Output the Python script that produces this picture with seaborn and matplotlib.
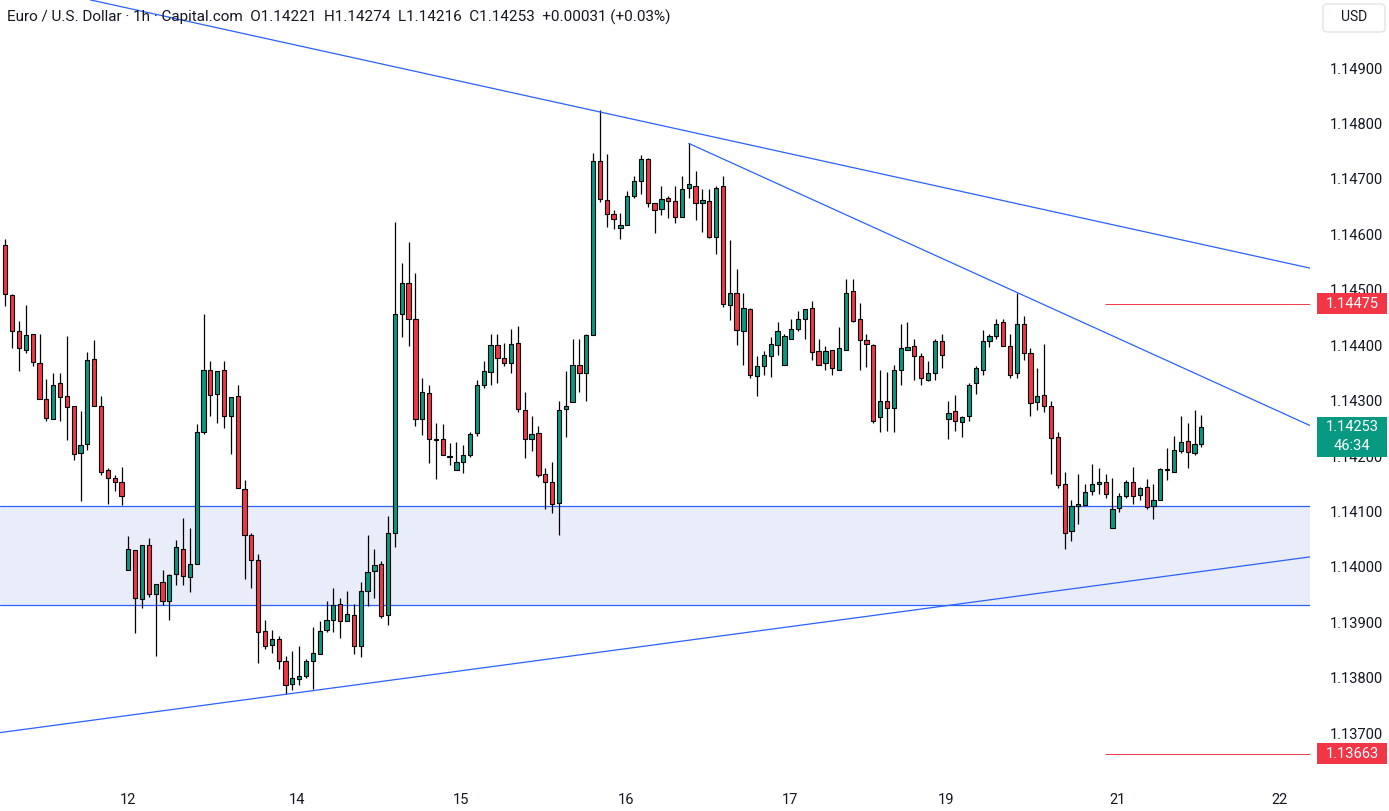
import numpy as np
import pandas as pd
import matplotlib
matplotlib.use("Agg")
import matplotlib.pyplot as plt
import seaborn as sns
from matplotlib.patches import Rectangle, FancyBboxPatch

# --- DATA: EUR/USD hourly candles ---
opens = [1.14581, 1.14490, 1.14425, 1.14392, 1.14420, 1.14367, 1.14302, 1.14267, 1.14331, 1.14308,
         1.14290, 1.14205, 1.14221, 1.14375, 1.14291, 1.14174, 1.14160, 1.14154, 1.13994, 1.14030,
         1.13942, 1.14039, 1.13951, 1.13972, 1.13938, 1.13987, 1.14033, 1.13981, 1.14005, 1.14243,
         1.14356, 1.14311, 1.14355, 1.14272, 1.14308, 1.14140, 1.14057, 1.14012, 1.13884, 1.13859,
         1.13869, 1.13830, 1.13788, 1.13797, 1.13804, 1.13830, 1.13842, 1.13886, 1.13904, 1.13933,
         1.13902, 1.13913, 1.13857, 1.13957, 1.13993, 1.14006, 1.13914, 1.14062, 1.14457, 1.14512,
         1.14448, 1.14267, 1.14314, 1.14230, 1.14230, 1.14199, 1.14174, 1.14190, 1.14201, 1.14241,
         1.14328, 1.14351, 1.14400, 1.14376, 1.14367, 1.14403, 1.14283, 1.14230, 1.14241, 1.14167,
         1.14154, 1.14115, 1.14284, 1.14297, 1.14365, 1.14349, 1.14418, 1.14732, 1.14661, 1.14636,
         1.14611, 1.14616, 1.14669, 1.14697, 1.14735, 1.14656, 1.14645, 1.14665, 1.14660, 1.14632,
         1.14683, 1.14688, 1.14656, 1.14660, 1.14595, 1.14687, 1.14472, 1.14495, 1.14425, 1.14465,
         1.14344, 1.14362, 1.14380, 1.14400, 1.14364, 1.14412, 1.14429, 1.14448, 1.14467, 1.14389,
         1.14367, 1.14391, 1.14356, 1.14392, 1.14497, 1.14447, 1.14409, 1.14400, 1.14270, 1.14299,
         1.14286, 1.14356, 1.14392, 1.14398, 1.14380, 1.14338, 1.14349, 1.14407, 1.14266, 1.14281,
         1.14261, 1.14272, 1.14331, 1.14356, 1.14407, 1.14416, 1.14441, 1.14398, 1.14349, 1.14438,
         1.14385, 1.14297, 1.14310, 1.14290, 1.14234, 1.14149, 1.14064, 1.14109, 1.14111, 1.14136,
         1.14149, 1.14154, 1.14070, 1.14106, 1.14127, 1.14154, 1.14129, 1.14144, 1.14109, 1.14120,
         1.14174, 1.14172, 1.14209, 1.14227, 1.14205, 1.14221]
highs = [1.14591, 1.14492, 1.14444, 1.14472, 1.14421, 1.14420, 1.14339, 1.14350, 1.14350, 1.14417,
         1.14291, 1.14281, 1.14388, 1.14409, 1.14308, 1.14178, 1.14166, 1.14180, 1.14056, 1.14030,
         1.14039, 1.14052, 1.13970, 1.13994, 1.13987, 1.14048, 1.14088, 1.14071, 1.14257, 1.14456,
         1.14371, 1.14353, 1.14371, 1.14306, 1.14329, 1.14156, 1.14061, 1.14023, 1.13904, 1.13886,
         1.13875, 1.13840, 1.13849, 1.13858, 1.13833, 1.13891, 1.13903, 1.13939, 1.13962, 1.13943,
         1.13957, 1.13933, 1.13972, 1.14058, 1.14032, 1.14011, 1.14092, 1.14622, 1.14549, 1.14587,
         1.14530, 1.14340, 1.14329, 1.14260, 1.14257, 1.14224, 1.14225, 1.14219, 1.14244, 1.14338,
         1.14371, 1.14420, 1.14420, 1.14403, 1.14429, 1.14434, 1.14315, 1.14272, 1.14255, 1.14178,
         1.14190, 1.14299, 1.14353, 1.14411, 1.14412, 1.14420, 1.14746, 1.14824, 1.14744, 1.14643,
         1.14638, 1.14679, 1.14706, 1.14743, 1.14737, 1.14656, 1.14687, 1.14669, 1.14687, 1.14706,
         1.14764, 1.14715, 1.14681, 1.14681, 1.14687, 1.14705, 1.14589, 1.14537, 1.14494, 1.14467,
         1.14380, 1.14389, 1.14414, 1.14442, 1.14420, 1.14447, 1.14461, 1.14465, 1.14479, 1.14412,
         1.14398, 1.14391, 1.14432, 1.14519, 1.14519, 1.14476, 1.14421, 1.14402, 1.14356, 1.14351,
         1.14365, 1.14438, 1.14441, 1.14412, 1.14385, 1.14371, 1.14411, 1.14421, 1.14299, 1.14310,
         1.14272, 1.14331, 1.14362, 1.14427, 1.14421, 1.14447, 1.14447, 1.14421, 1.14495, 1.14452,
         1.14394, 1.14358, 1.14402, 1.14299, 1.14243, 1.14172, 1.14120, 1.14167, 1.14149, 1.14185,
         1.14178, 1.14167, 1.14160, 1.14133, 1.14156, 1.14180, 1.14144, 1.14158, 1.14149, 1.14178,
         1.14214, 1.14236, 1.14273, 1.14259, 1.14283, 1.14274]
lows = [1.14471, 1.14394, 1.14354, 1.14386, 1.14363, 1.14302, 1.14264, 1.14266, 1.14264, 1.14229,
        1.14192, 1.14118, 1.14211, 1.14291, 1.14165, 1.14114, 1.14136, 1.14112, 1.13994, 1.13881,
        1.13926, 1.13945, 1.13840, 1.13932, 1.13905, 1.13967, 1.13967, 1.13954, 1.14005, 1.14239,
        1.14272, 1.14259, 1.14250, 1.14203, 1.14142, 1.13979, 1.13961, 1.13826, 1.13851, 1.13844,
        1.13815, 1.13770, 1.13777, 1.13786, 1.13799, 1.13779, 1.13842, 1.13882, 1.13882, 1.13871,
        1.13902, 1.13842, 1.13837, 1.13930, 1.13944, 1.13907, 1.13896, 1.14036, 1.14414, 1.14399,
        1.14255, 1.14238, 1.14188, 1.14158, 1.14201, 1.14183, 1.14174, 1.14170, 1.14198, 1.14237,
        1.14322, 1.14329, 1.14332, 1.14363, 1.14350, 1.14279, 1.14197, 1.14209, 1.14163, 1.14105,
        1.14098, 1.14058, 1.14234, 1.14297, 1.14315, 1.14300, 1.14418, 1.14658, 1.14613, 1.14609,
        1.14591, 1.14616, 1.14665, 1.14672, 1.14649, 1.14602, 1.14634, 1.14629, 1.14620, 1.14631,
        1.14665, 1.14625, 1.14604, 1.14593, 1.14564, 1.14468, 1.14445, 1.14400, 1.14365, 1.14340,
        1.14308, 1.14347, 1.14342, 1.14383, 1.14364, 1.14412, 1.14425, 1.14411, 1.14373, 1.14365,
        1.14356, 1.14346, 1.14355, 1.14391, 1.14441, 1.14355, 1.14360, 1.14259, 1.14243, 1.14246,
        1.14243, 1.14329, 1.14392, 1.14338, 1.14329, 1.14335, 1.14337, 1.14358, 1.14230, 1.14246,
        1.14234, 1.14263, 1.14311, 1.14346, 1.14396, 1.14411, 1.14398, 1.14340, 1.14340, 1.14373,
        1.14272, 1.14283, 1.14279, 1.14167, 1.14142, 1.14032, 1.14046, 1.14077, 1.14111, 1.14129,
        1.14131, 1.14124, 1.14070, 1.14099, 1.14124, 1.14113, 1.14120, 1.14104, 1.14086, 1.14120,
        1.14156, 1.14171, 1.14205, 1.14178, 1.14201, 1.14216]
closes = [1.14492, 1.14425, 1.14394, 1.14418, 1.14369, 1.14302, 1.14268, 1.14329, 1.14306, 1.14288,
          1.14203, 1.14219, 1.14373, 1.14291, 1.14172, 1.14160, 1.14154, 1.14127, 1.14032, 1.13943,
          1.14039, 1.13951, 1.13970, 1.13938, 1.13985, 1.14035, 1.13983, 1.14006, 1.14243, 1.14356,
          1.14310, 1.14353, 1.14272, 1.14306, 1.14142, 1.14057, 1.14012, 1.13882, 1.13857, 1.13869,
          1.13830, 1.13786, 1.13799, 1.13804, 1.13830, 1.13844, 1.13884, 1.13904, 1.13931, 1.13902,
          1.13915, 1.13857, 1.13956, 1.13991, 1.14004, 1.13912, 1.14061, 1.14457, 1.14512, 1.14448,
          1.14266, 1.14316, 1.14230, 1.14229, 1.14201, 1.14198, 1.14190, 1.14201, 1.14239, 1.14328,
          1.14353, 1.14400, 1.14376, 1.14367, 1.14402, 1.14284, 1.14230, 1.14239, 1.14165, 1.14154,
          1.14113, 1.14283, 1.14291, 1.14365, 1.14349, 1.14418, 1.14732, 1.14663, 1.14636, 1.14627,
          1.14616, 1.14669, 1.14696, 1.14735, 1.14656, 1.14643, 1.14663, 1.14660, 1.14632, 1.14681,
          1.14690, 1.14656, 1.14661, 1.14596, 1.14683, 1.14474, 1.14494, 1.14427, 1.14467, 1.14346,
          1.14362, 1.14382, 1.14402, 1.14425, 1.14416, 1.14430, 1.14448, 1.14465, 1.14387, 1.14365,
          1.14389, 1.14358, 1.14394, 1.14495, 1.14443, 1.14409, 1.14402, 1.14264, 1.14299, 1.14286,
          1.14356, 1.14394, 1.14396, 1.14380, 1.14340, 1.14349, 1.14407, 1.14383, 1.14277, 1.14263,
          1.14270, 1.14329, 1.14358, 1.14407, 1.14416, 1.14439, 1.14398, 1.14347, 1.14438, 1.14385,
          1.14295, 1.14308, 1.14291, 1.14232, 1.14147, 1.14062, 1.14109, 1.14113, 1.14135, 1.14149,
          1.14153, 1.14131, 1.14104, 1.14127, 1.14154, 1.14127, 1.14142, 1.14108, 1.14120, 1.14176,
          1.14176, 1.14210, 1.14225, 1.14207, 1.14221, 1.14253]

day_ticks = [18, 42.7, 66.7, 90.8, 114.8, 137.6, 162.7, 186.5]
day_labels = ["12", "14", "15", "16", "17", "19", "21", "22"]
price_ticks = [1.137, 1.138, 1.139, 1.140, 1.141, 1.142, 1.143, 1.144, 1.145, 1.146, 1.147, 1.148, 1.149]

zone_low, zone_high = 1.13931, 1.14110
upper_line_x, upper_line_y = [12.4, 190.9], [1.15023, 1.14539]
mid_line_x, mid_line_y = [100, 190.9], [1.14764, 1.14255]
lower_line_x, lower_line_y = [-0.78, 190.9], [1.13701, 1.14018]
level_start = 160.9
level_hi, level_lo = 1.14475, 1.13663
last_price, countdown = 1.14253, "46:34"

header = ("Euro / U.S. Dollar · 1h · Capital.com  O1.14221  H1.14274  "
          "L1.14216  C1.14253  +0.00031 (+0.03%)")

GREEN = "#089981"
RED = "#F23645"
BLUE = "#2962FF"
TEXT = "#131722"

# --- FIGURE ---
sns.set_style("white")
plt.rcParams['font.family'] = ['Roboto', 'DejaVu Sans']

W, H = 1389, 811
fig = plt.figure(figsize=(W / 100, H / 100), dpi=100)
ax = fig.add_axes([0, 29 / H, 1310 / W, 782 / H])

df = pd.DataFrame({"open": opens, "high": highs, "low": lows, "close": closes})
df["bar"] = np.arange(len(df))
df["up"] = df["close"] >= df["open"]
df["bottom"] = df[["open", "close"]].min(axis=1)
df["body"] = (df["close"] - df["open"]).abs().clip(lower=0.000012)

# demand zone
ax.axhspan(zone_low, zone_high, color="#E9EDFA", zorder=0, lw=0)
ax.axhline(zone_high, color=BLUE, lw=0.9, zorder=1)
ax.axhline(zone_low, color=BLUE, lw=0.9, zorder=1)

# candles
ax.vlines(df["bar"], df["low"], df["high"], color="black", lw=0.9, zorder=2)
ax.bar(df["bar"], df["body"], bottom=df["bottom"], width=0.62,
       color=np.where(df["up"], GREEN, RED), edgecolor="black", linewidth=0.8, zorder=3)

# trend lines
for lx, ly in [(upper_line_x, upper_line_y), (mid_line_x, mid_line_y), (lower_line_x, lower_line_y)]:
    sns.lineplot(x=lx, y=ly, ax=ax, color=BLUE, lw=0.9, estimator=None, sort=False, zorder=4)

ax.hlines([level_hi, level_lo], level_start, 190.9, color=RED, lw=0.7, zorder=4)

ax.set_xlim(-0.78, 190.9)
ax.set_ylim(1.136119, 1.150227)
ax.yaxis.tick_right()
ax.set_yticks(price_ticks, [f"{p:.5f}" for p in price_ticks])
ax.set_xticks(day_ticks, day_labels)
ax.tick_params(axis="y", length=0, pad=14, labelsize=10.5, labelcolor=TEXT)
ax.tick_params(axis="x", length=0, pad=8, labelsize=10.5, labelcolor=TEXT)
ax.set_xlabel("")
ax.set_ylabel("")
sns.despine(ax=ax, left=True, bottom=True, right=True, top=True)

# price scale tags
tag = fig.add_axes([1310 / W, 29 / H, 79 / W, 782 / H])
tag.set_xlim(0, 79)
tag.set_ylim(ax.get_ylim())
tag.axis("off")
px = 0.00001804  # price per pixel
for price, color in [(level_hi, RED), (level_lo, RED)]:
    tag.add_patch(Rectangle((7, price - 10.5 * px), 70, 21 * px, color=color, lw=0))
    tag.text(42, price, f"{price:.5f}", color="white", ha="center", va="center", fontsize=10.5)
tag.add_patch(Rectangle((7, last_price - 30 * px), 70, 40 * px, color=GREEN, lw=0))
tag.text(42, last_price, f"{last_price:.5f}", color="white", ha="center", va="center", fontsize=10.5)
tag.text(42, last_price - 19 * px, countdown, color="white", ha="center", va="center", fontsize=10.5)

# currency box
fig.patches.append(FancyBboxPatch((1323 / W, 1 - 32 / H), 62 / W, 28 / H,
                                  boxstyle="round,pad=0,rounding_size=0.004",
                                  transform=fig.transFigure, fc="white", ec="#E0E3EB", lw=1))
fig.text(1354 / W, 1 - 17 / H, "USD", ha="center", va="center", fontsize=10, color=TEXT)

# header
fig.text(7 / W, 1 - 17 / H, header, ha="left", va="center", fontsize=11, color=TEXT)

fig.savefig("out.png", dpi=100, facecolor="white")
